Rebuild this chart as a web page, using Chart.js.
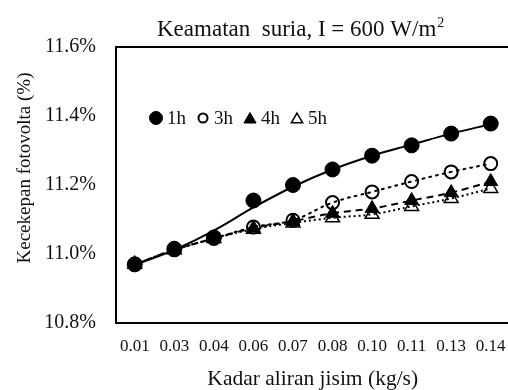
<!DOCTYPE html>
<html>
<head>
<meta charset="utf-8">
<script src="https://cdn.jsdelivr.net/npm/chart.js@4.4.1/dist/chart.umd.min.js"></script>
<style>
  html, body { margin: 0; padding: 0; overflow: hidden; background: #fff; }
  #wrap { width: 508px; height: 390px; overflow: hidden; position: relative; }
  canvas { display: block; }
</style>
</head>
<body>
<div id="wrap"><canvas id="chart" width="520" height="390"></canvas></div>
<script>
// Mass flow rate categories (kg/s)
const flowRates = ['0.01', '0.03', '0.04', '0.06', '0.07', '0.08', '0.10', '0.11', '0.13', '0.14'];

// PV efficiency (%) after each hour of operation
const eff1h = [10.97, 11.015, 11.048, 11.155, 11.200, 11.245, 11.285, 11.315, 11.349, 11.378];
const eff3h = [10.97, 11.012, 11.045, 11.078, 11.098, 11.149, 11.180, 11.210, 11.238, 11.262];
const eff4h = [10.97, 11.012, 11.045, 11.075, 11.095, 11.118, 11.132, 11.155, 11.178, 11.210];
const eff5h = [10.97, 11.012, 11.045, 11.072, 11.090, 11.105, 11.115, 11.138, 11.161, 11.190];

// fitted trend curve for the 1h series (%)
const trend1h = [10.968, 11.012, 11.068, 11.135, 11.195, 11.245, 11.285, 11.317, 11.349, 11.376];

const seriesLabels = ['1h', '3h', '4h', '5h'];

// y axis range (%)
const yMin = 10.8, yMax = 11.6, yStep = 0.2;

const SERIF = "'Liberation Serif', 'Times New Roman', serif";
const INK = '#111';

// marker styles per series, plot size and legend size
const markers = {
  '1h': { pointStyle: 'circle',   bg: '#000', border: '#000', bw: 1,   r: 7.5, lr: 6.5 },
  '3h': { pointStyle: 'circle',   bg: '#fff', border: '#000', bw: 2,   r: 6.5, lr: 4.5 },
  '4h': { pointStyle: 'triangle', bg: '#000', border: '#000', bw: 1,   r: 8,   lr: 7 },
  '5h': { pointStyle: 'triangle', bg: '#fff', border: '#000', bw: 1.5, r: 8,   lr: 6.5 }
};
const trendDash = { '1h': [], '3h': [2, 5], '4h': [7, 5], '5h': [2, 3] };
const trendCap  = { '1h': 'butt', '3h': 'round', '4h': 'butt', '5h': 'butt' };
// stacking of markers, lower value drawn on top
const markerOrder = { '1h': 1, '4h': 2, '3h': 3, '5h': 4 };

const seriesData = { '1h': eff1h, '3h': eff3h, '4h': eff4h, '5h': eff5h };
const trendData  = { '1h': trend1h, '3h': eff3h, '4h': eff4h, '5h': eff5h };

const datasets = [];
seriesLabels.forEach(lbl => {
  const m = markers[lbl];
  datasets.push({
    label: lbl,
    data: seriesData[lbl],
    showLine: false,
    pointStyle: m.pointStyle,
    pointRadius: m.r,
    pointBackgroundColor: m.bg,
    pointBorderColor: m.border,
    pointBorderWidth: m.bw,
    order: markerOrder[lbl]
  });
});
seriesLabels.forEach(lbl => {
  datasets.push({
    label: lbl + ' trend',
    data: trendData[lbl],
    showLine: true,
    pointRadius: 0,
    borderColor: '#000',
    borderWidth: 2,
    borderDash: trendDash[lbl],
    borderCapStyle: trendCap[lbl],
    tension: 0.4,
    fill: false,
    order: 0
  });
});

// plot frame, chart title, y title and inline legend
const decorations = {
  id: 'decorations',
  beforeDatasetsDraw(chart) {
    const { ctx, chartArea: a } = chart;
    ctx.save();
    ctx.strokeStyle = '#000';
    ctx.lineWidth = 2;
    ctx.strokeRect(a.left + 1, a.top, a.right - a.left, a.bottom - a.top);
    ctx.restore();
  },
  afterDraw(chart) {
    const { ctx, chartArea: a } = chart;
    ctx.save();
    ctx.fillStyle = INK;

    // chart title with superscript
    ctx.font = '23px ' + SERIF;
    ctx.textBaseline = 'alphabetic';
    ctx.textAlign = 'left';
    const t = 'Keamatan  suria, I = 600 W/m';
    const tx = 157, ty = 36;
    ctx.fillText(t, tx, ty);
    const tw = ctx.measureText(t).width;
    ctx.font = '14px ' + SERIF;
    ctx.fillText('2', tx + tw + 1, ty - 9);

    // y axis title
    ctx.save();
    ctx.translate(25, 168);
    ctx.rotate(-Math.PI / 2);
    ctx.font = '19px ' + SERIF;
    ctx.textAlign = 'center';
    ctx.textBaseline = 'middle';
    ctx.fillText('Kecekepan fotovolta (%)', 0, 0);
    ctx.restore();

    // legend
    ctx.font = '19px ' + SERIF;
    ctx.textBaseline = 'middle';
    ctx.textAlign = 'left';
    let x = a.left + 41;
    const y = a.top + 71;
    seriesLabels.forEach(lbl => {
      const m = markers[lbl];
      ctx.fillStyle = m.bg;
      ctx.strokeStyle = m.border;
      ctx.lineWidth = m.bw;
      const py = m.pointStyle === 'triangle' ? y + 1.5 : y;
      Chart.helpers.drawPoint(ctx, { pointStyle: m.pointStyle, radius: m.lr, rotation: 0, borderWidth: m.bw }, x, py);
      ctx.fillStyle = INK;
      ctx.fillText(lbl, x + 11, y + 1);
      x += 11 + ctx.measureText(lbl).width + 17;
    });
    ctx.restore();
  }
};

new Chart(document.getElementById('chart'), {
  type: 'line',
  data: { labels: flowRates, datasets },
  options: {
    responsive: false,
    animation: false,
    devicePixelRatio: 1,
    layout: { padding: { top: 47, right: 3, bottom: 0, left: 0 } },
    plugins: {
      legend: { display: false },
      title: { display: false },
      tooltip: { enabled: false }
    },
    scales: {
      x: {
        offset: true,
        grid: { display: false, drawTicks: false },
        border: { display: false },
        ticks: {
          color: INK,
          font: { family: SERIF, size: 17 },
          padding: 13,
          maxRotation: 0,
          autoSkip: false
        },
        title: {
          display: true,
          text: 'Kadar aliran jisim (kg/s)',
          color: INK,
          font: { family: SERIF, size: 21.5, lineHeight: 1 },
          padding: { top: 0, bottom: 0 }
        },
        afterFit(scale) { scale.height = 67; }
      },
      y: {
        min: yMin,
        max: yMax,
        grid: { display: false, drawTicks: false },
        border: { display: false },
        ticks: {
          stepSize: yStep,
          color: INK,
          font: { family: SERIF, size: 20 },
          padding: 19,
          callback: v => v.toFixed(1) + '%'
        },
        afterFit(scale) { scale.width = 115; }
      }
    }
  },
  plugins: [decorations]
});
</script>
</body>
</html>
